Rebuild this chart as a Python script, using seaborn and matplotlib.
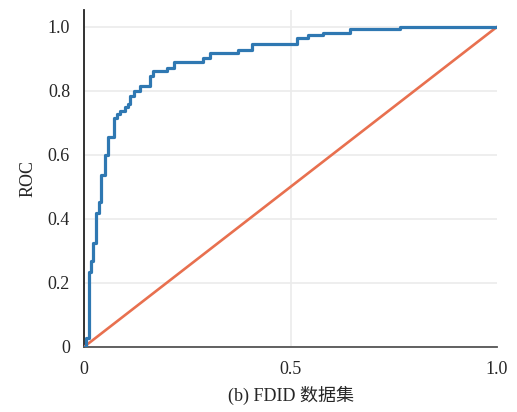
import pandas as pd
import numpy as np
import seaborn as sns
import matplotlib.pyplot as plt

# ROC curve points (fpr, tpr after each step)
fpr = [0.0, 0.006, 0.012, 0.017, 0.022, 0.030, 0.036, 0.042, 0.051, 0.059,
       0.073, 0.080, 0.087, 0.099, 0.107, 0.111, 0.121, 0.136, 0.160, 0.167, 0.200,
       0.218, 0.288, 0.305, 0.373, 0.407, 0.515, 0.542, 0.579, 0.644, 0.765, 1.0]
tpr = [0.0, 0.028, 0.234, 0.269, 0.325, 0.419, 0.453, 0.537, 0.600, 0.656,
       0.716, 0.728, 0.738, 0.750, 0.759, 0.784, 0.800, 0.816, 0.845, 0.862, 0.872,
       0.891, 0.903, 0.917, 0.927, 0.947, 0.964, 0.973, 0.981, 0.992, 1.0, 1.0]
diag = [0.0, 1.0]

xticks = [0, 0.5, 1.0]
xticklabels = ['0', '0.5', '1.0']
yticks = [0, 0.2, 0.4, 0.6, 0.8, 1.0]
yticklabels = ['0', '0.2', '0.4', '0.6', '0.8', '1.0']

sns.set_style('white')
plt.rcParams['font.family'] = ['Liberation Serif', 'Noto Sans CJK SC', 'DejaVu Sans']

df = pd.DataFrame({'fpr': fpr, 'tpr': tpr})
df_diag = pd.DataFrame({'x': diag, 'y': diag})

fig = plt.figure(figsize=(5.17, 4.12), dpi=100)
ax = fig.add_axes([0.1625, 0.158, 0.7988, 0.818])

sns.lineplot(data=df_diag, x='x', y='y', color='#e8704f', linewidth=1.9, ax=ax,
             estimator=None, zorder=3)
sns.lineplot(data=df, x='fpr', y='tpr', color='#2f78b2', linewidth=2.3, ax=ax,
             estimator=None, drawstyle='steps-post', zorder=4)

ax.set_xlim(0, 1.0)
ax.set_ylim(0, 1.053)
ax.set_xticks(xticks)
ax.set_xticklabels(xticklabels, fontsize=13)
ax.set_yticks(yticks)
ax.set_yticklabels(yticklabels, fontsize=13)
ax.tick_params(length=0, pad=10)
ax.grid(True, color='#ebebeb', linewidth=1.2)
ax.xaxis.get_gridlines()[-1].set_visible(False)
ax.set_axisbelow(True)

for s in ['top', 'right']:
    ax.spines[s].set_visible(False)
ax.spines['left'].set_color('#222222')
ax.spines['left'].set_linewidth(1.3)
ax.spines['bottom'].set_color('#555555')
ax.spines['bottom'].set_linewidth(1.3)

ax.set_xlabel('(b) FDID 数据集', fontsize=13, labelpad=6)
ax.set_ylabel('ROC', fontsize=13, labelpad=8)

plt.savefig('out.png', dpi=100)
